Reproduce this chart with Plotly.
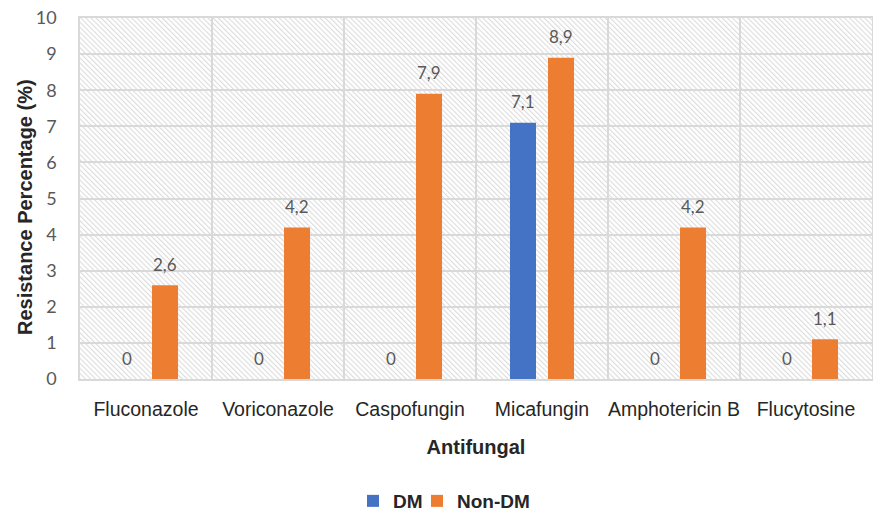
import base64
import plotly.graph_objects as go

categories = ["Fluconazole", "Voriconazole", "Caspofungin", "Micafungin", "Amphotericin B", "Flucytosine"]
dm_values = [0, 0, 0, 7.1, 0, 0]
nondm_values = [2.6, 4.2, 7.9, 8.9, 4.2, 1.1]
series_names = ["DM", "Non-DM"]
y_ticks = list(range(0, 11))

BLUE = "#4472C4"
ORANGE = "#ED7D31"
GRID = "#d9d9d9"
BARGAP = 0.424
BARGROUPGAP = 0.316

W, H = 873, 511
ML, MR, MT, MB = 80, 1, 18, 132
PW, PH = W - ML - MR, H - MT - MB

svg = (
    f"<svg xmlns='http://www.w3.org/2000/svg' width='{PW}' height='{PH}' viewBox='0 0 {PW} {PH}'>"
    "<defs><pattern id='h' width='3.6' height='3.6' patternUnits='userSpaceOnUse' "
    "patternTransform='rotate(-45)'><rect x='0' y='0' width='1.1' height='3.6' fill='#dcdcdc'/></pattern></defs>"
    f"<rect width='{PW}' height='{PH}' fill='url(#h)'/></svg>"
)
svg_uri = "data:image/svg+xml;base64," + base64.b64encode(svg.encode()).decode()


def fmt(v):
    return "0" if v == 0 else f"{v:.1f}".replace(".", ",")


fig = go.Figure()
fig.add_trace(go.Bar(name=series_names[0], x=categories, y=dm_values, legend="legend", showlegend=True,
                     marker=dict(color=BLUE, line=dict(width=0))))
fig.add_trace(go.Bar(name=series_names[1], x=categories, y=nondm_values, legend="legend2", showlegend=True,
                     marker=dict(color=ORANGE, line=dict(width=0))))

off = (1 - BARGAP) / 4
annotations = []
for vals, sign in ((dm_values, -1), (nondm_values, 1)):
    for i, v in enumerate(vals):
        annotations.append(dict(
            x=i + sign * off, y=v, xref="x", yref="y", text=fmt(v), showarrow=False,
            yshift=21, yanchor="middle", xanchor="center",
            font=dict(family="Lato", size=17, color="#595959"),
        ))
annotations.append(dict(
    x=-0.0694, y=0.4765, xref="paper", yref="paper", text="<b>Resistance Percentage (%)</b>",
    showarrow=False, textangle=-90, xanchor="center", yanchor="middle",
    font=dict(family="Liberation Sans", size=20, color="#262626"),
))

legend_font = dict(family="Liberation Sans", size=19, color="#262626", weight="bold")

fig.update_layout(
    width=W, height=H,
    margin=dict(l=ML, r=MR, t=MT, b=MB, autoexpand=False),
    paper_bgcolor="white", plot_bgcolor="white",
    showlegend=True,
    barmode="group", bargap=BARGAP, bargroupgap=BARGROUPGAP,
    images=[dict(source=svg_uri, xref="paper", yref="paper", x=0, y=1, sizex=1, sizey=1,
                 xanchor="left", yanchor="top", sizing="stretch", layer="below")],
    annotations=annotations,
    legend=dict(orientation="h", x=0.3447, xanchor="left", y=-0.338, yanchor="middle",
                font=legend_font, itemwidth=30, bgcolor="rgba(0,0,0,0)", visible=True),
    legend2=dict(orientation="h", x=0.4255, xanchor="left", y=-0.338, yanchor="middle",
                 font=legend_font, itemwidth=30, bgcolor="rgba(0,0,0,0)", visible=True),
    xaxis=dict(
        type="category", tickson="boundaries", showgrid=True, gridcolor=GRID, gridwidth=1.5,
        showline=True, linecolor=GRID, linewidth=1.5, mirror=True, ticks="", tickangle=0,
        tickfont=dict(family="Liberation Sans", size=19.5, color="#262626"),
        ticklabelstandoff=12, automargin=False,
        title=dict(text="<b>Antifungal</b>", font=dict(family="Liberation Sans", size=20, color="#262626"), standoff=21),
    ),
    yaxis=dict(
        range=[0, 10], tickvals=y_ticks, showgrid=True, gridcolor=GRID, gridwidth=1.5,
        showline=True, linecolor=GRID, linewidth=1.5, mirror=True, zeroline=False, ticks="",
        tickfont=dict(family="Lato", size=18, color="#595959"),
        ticklabelstandoff=18, automargin=False,
    ),
)

fig.write_html("out.html", config={"displayModeBar": False},
               post_script="document.body.style.margin='0';document.body.style.overflow='hidden';")
